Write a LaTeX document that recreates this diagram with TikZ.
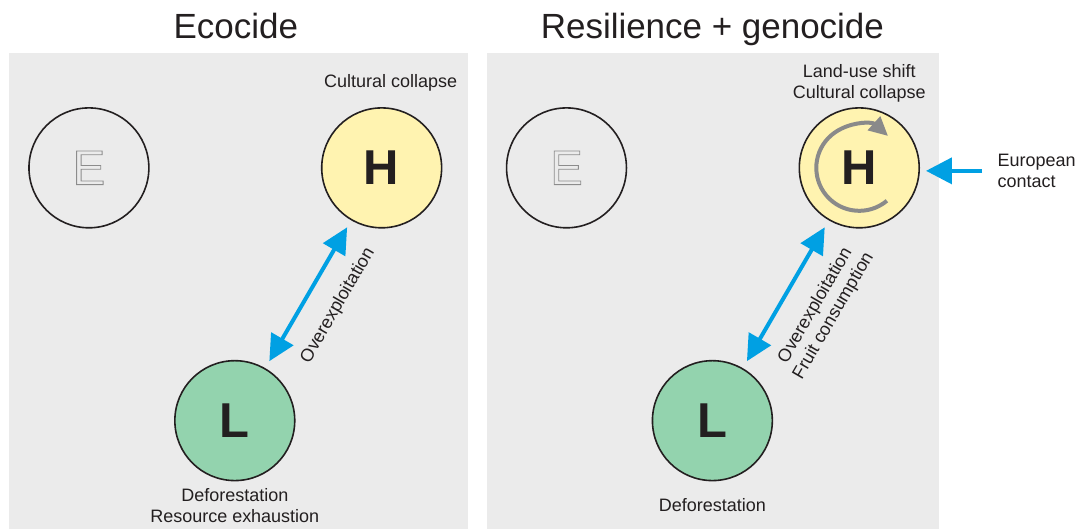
\documentclass[tikz,border=0pt]{standalone}
\usepackage{fontspec}
\setmainfont{Liberation Sans}
\usepackage{xcolor}
\usetikzlibrary{arrows.meta,positioning}

\definecolor{panelgray}{RGB}{235,235,235}
\definecolor{hfill}{RGB}{255,243,176}
\definecolor{lfill}{RGB}{147,211,174}
\definecolor{linkblue}{RGB}{0,160,227}
\definecolor{inkdark}{RGB}{35,31,32}
\definecolor{cyclegray}{RGB}{138,138,138}
\definecolor{ghostgray}{RGB}{140,140,140}

% hollow letter: stroke only, no fill
\newcommand{\hollow}[1]{\special{pdf:literal direct 1 Tr 0.9 w}#1\special{pdf:literal direct 0 Tr}}

\begin{document}
\begin{tikzpicture}[x=1pt,y=-1pt,font=\fontsize{18}{21}\selectfont,text=inkdark,
  state/.style={circle, draw=inkdark, line width=1.6pt, minimum size=120pt, inner sep=0pt,
    font=\fontsize{49}{49}\selectfont\bfseries},
  ghost/.style={state, font=\fontsize{49}{49}\selectfont, text=ghostgray},
  link/.style={draw=linkblue, line width=4pt,
    {Triangle[length=26pt,width=25pt]}-{Triangle[length=26pt,width=25pt]},
    shorten <=8pt, shorten >=8pt},
  push/.style={draw=linkblue, line width=4pt, -{Triangle[length=26pt,width=26pt]}, shorten >=6pt},
  cycle/.style={draw=cyclegray, line width=4pt, -{Triangle[length=19pt,width=18pt]}},
  title/.style={font=\fontsize{35}{35}\selectfont, anchor=base}]

  \fill[white] (0,0) rectangle (1079,529);

  % left: ecocide
  \begin{scope}
    \fill[panelgray] (9,53) rectangle (468,529);
    \node[title] (t1) at (236,39) {Ecocide};
    \node[ghost] (E1) at (89,168) {\hollow{E}};
    \node[state, fill=hfill] (H1) at (382,168) {H};
    \node[state, fill=lfill] (L1) at (235,421) {L};
    \draw[link] (L1) -- node[pos=0.53, sloped, below, inner sep=21pt] (o1) {Overexploitation} (H1);
    \node[anchor=base] (c1) at (391,88) {Cultural collapse};
    % base anchor sits on the last line
    \node[anchor=base, align=center] (d1) at (235,523) {Deforestation\\Resource exhaustion};
  \end{scope}

  % right: resilience + genocide
  \begin{scope}[shift={(478,0)}]
    \fill[panelgray] (9,53) rectangle (462,529);
    \node[title] (t2) at (235,39) {Resilience + genocide};
    \node[ghost] (E2) at (89,168) {\hollow{E}};
    \node[state, fill=hfill] (H2) at (382,168) {H};
    \node[state, fill=lfill] (L2) at (235,421) {L};
    \draw[cycle] (H2.center) ++(-50:43pt) arc[start angle=-50, end angle=-312, radius=43pt];
    \draw[link] (L2) -- node[pos=0.53, sloped, below, inner sep=21pt, align=center] (o2)
      {Overexploitation\\Fruit consumption} (H2);
    \node[anchor=base, align=center] (c2) at (382,99) {Land-use shift\\Cultural collapse};
    \node[anchor=base] (d2) at (235,512) {Deforestation};
    \coordinate (ec) at (505,171);
    \draw[push] (ec) -- (ec -| H2.east);
    \node[anchor=base west, align=left] (x2) at (517,188) {European\\contact};
  \end{scope}
\end{tikzpicture}
\end{document}
